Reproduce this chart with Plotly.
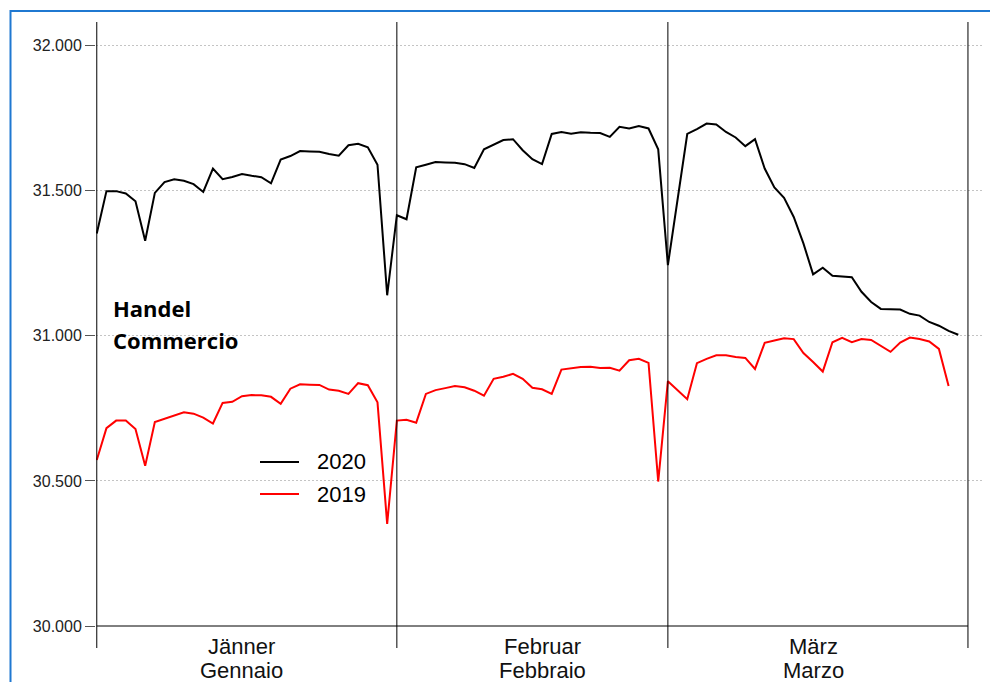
import plotly.graph_objects as go

# ---- data ----
months_de = ["Jänner", "Februar", "März"]
months_it = ["Gennaio", "Febbraio", "Marzo"]
month_lengths = [31, 28, 31]

values_2020 = [
    # Jänner / Gennaio
    31353, 31499, 31499, 31491, 31464, 31328, 31493, 31530, 31540, 31535,
    31523, 31496, 31577, 31540, 31548, 31558, 31552, 31547, 31526, 31608,
    31620, 31637, 31636, 31635, 31627, 31621, 31657, 31662, 31650, 31590,
    31140,
    # Februar / Febbraio
    31416, 31402, 31581, 31590, 31599, 31598, 31597, 31592, 31579, 31643,
    31659, 31675, 31678, 31640, 31609, 31592, 31696, 31703, 31697, 31702,
    31700, 31699, 31686, 31721, 31715, 31723, 31715, 31643,
    # März / Marzo
    31244, 31470, 31696, 31713, 31732, 31729, 31703, 31684, 31654, 31678,
    31577, 31512, 31476, 31410, 31319, 31212, 31235, 31207, 31205, 31202,
    31152, 31117, 31093, 31092, 31091, 31076, 31070, 31048, 31035, 31017,
    31004,
]

values_2019 = [
    # Jänner / Gennaio
    30572, 30682, 30708, 30708, 30679, 30552, 30703, 30715, 30725, 30737,
    30732, 30718, 30698, 30769, 30773, 30792, 30796, 30795, 30790, 30766,
    30818, 30833, 30832, 30831, 30815, 30811, 30800, 30837, 30830, 30771,
    30352,
    # Februar / Febbraio
    30708, 30711, 30701, 30800, 30813, 30820, 30827, 30823, 30811, 30794,
    30852, 30859, 30869, 30852, 30821, 30816, 30800, 30884, 30889, 30893,
    30894, 30889, 30890, 30880, 30916, 30921, 30907, 30498,
    # März / Marzo
    30844, 30813, 30782, 30906, 30921, 30933, 30933, 30927, 30924, 30886,
    30976, 30984, 30992, 30989, 30941, 30910, 30877, 30978, 30993, 30978,
    30989, 30986, 30966, 30945, 30977, 30994, 30989, 30981, 30955, 30827,
]

y_ticks = [30000, 30500, 31000, 31500, 32000]
series_names = ["2020", "2019"]
series_colors = ["#000000", "#ff0000"]
label_de = "Handel"
label_it = "Commercio"

# ---- derived positions ----
boundaries = [0]
for n in month_lengths:
    boundaries.append(boundaries[-1] + n)
label_pos = [b + 15 for b in boundaries[:-1]]  # 16th of each month

OFF = 8  # default page body margin
W, H = 990, 674
ml, mr, mt, mb = 88, 16, 14, 56
pw, ph = W - ml - mr, H - mt - mb


def px(xs):
    """screen x -> paper x"""
    return (xs - OFF - ml) / pw


def py(ys):
    """screen y -> paper y"""
    return (H - mb - (ys - OFF)) / ph


fig = go.Figure()
for vals, name, col in zip([values_2020, values_2019], series_names, series_colors):
    fig.add_trace(go.Scatter(
        x=list(range(len(vals))), y=vals, mode="lines", name=name,
        line=dict(color=col, width=2), showlegend=False,
        hovertemplate="%{y:,d}<extra>" + name + "</extra>",
    ))

shapes = []
# month separators (extend below the axis like ticks)
for b in boundaries:
    shapes.append(dict(type="line", xref="x", yref="paper", x0=b, x1=b,
                       y0=py(648), y1=1.0, line=dict(color="#000000", width=1)))
# baseline at 30.000
shapes.append(dict(type="line", xref="x", yref="paper", x0=boundaries[0], x1=boundaries[-1],
                   y0=0, y1=0, line=dict(color="#000000", width=1)))
# blue frame
shapes.append(dict(type="rect", xref="paper", yref="paper",
                   x0=px(10.5), x1=px(992.5), y0=py(720), y1=py(11),
                   line=dict(color="#1f78d1", width=2), fillcolor="rgba(0,0,0,0)"))
# custom legend samples
leg_y = [462, 494]
for yy, col in zip(leg_y, series_colors):
    shapes.append(dict(type="line", xref="paper", yref="paper",
                       x0=px(260), x1=px(299), y0=py(yy), y1=py(yy),
                       line=dict(color=col, width=2)))

annotations = []
for yy, name in zip(leg_y, series_names):
    annotations.append(dict(xref="paper", yref="paper", x=px(315), y=py(yy),
                            xanchor="left", yanchor="middle", text=name, showarrow=False,
                            font=dict(family="Liberation Sans", size=22, color="#000000")))
for pos, de, it in zip(label_pos, months_de, months_it):
    annotations.append(dict(xref="x", yref="paper", x=pos, y=py(647), xanchor="center",
                            yanchor="middle", text=de, showarrow=False,
                            font=dict(family="Liberation Sans", size=22, color="#111111")))
    annotations.append(dict(xref="x", yref="paper", x=pos, y=py(670), xanchor="center",
                            yanchor="middle", text=it, showarrow=False,
                            font=dict(family="Liberation Sans", size=22, color="#111111")))
annotations.append(dict(xref="paper", yref="paper", x=px(111), y=py(308), xanchor="left",
                        yanchor="middle", text="<b>" + label_de + "</b>", showarrow=False,
                        font=dict(family="Open Sans", size=22, color="#000000")))
annotations.append(dict(xref="paper", yref="paper", x=px(111), y=py(340), xanchor="left",
                        yanchor="middle", text="<b>" + label_it + "</b>", showarrow=False,
                        font=dict(family="Open Sans", size=22, color="#000000")))

fig.update_layout(
    width=W, height=H, autosize=False,
    margin=dict(l=ml, r=mr, t=mt, b=mb, pad=0),
    paper_bgcolor="white", plot_bgcolor="white",
    separators=",.",
    shapes=shapes, annotations=annotations,
    showlegend=False,
)
fig.update_xaxes(range=[-0.08, 91.45], showgrid=False, zeroline=False, showline=False,
                 showticklabels=False, ticks="")
fig.update_yaxes(range=[30000, 32082], tickvals=y_ticks, tickformat=",d",
                 showgrid=True, gridcolor="#c4c4c4", gridwidth=1, griddash="2px,2px",
                 zeroline=False, showline=False, ticks="outside", ticklen=10,
                 tickcolor="#555555", tickwidth=1,
                 tickfont=dict(family="Liberation Sans", size=16, color="#222222"))

fig.write_html("out.html")
